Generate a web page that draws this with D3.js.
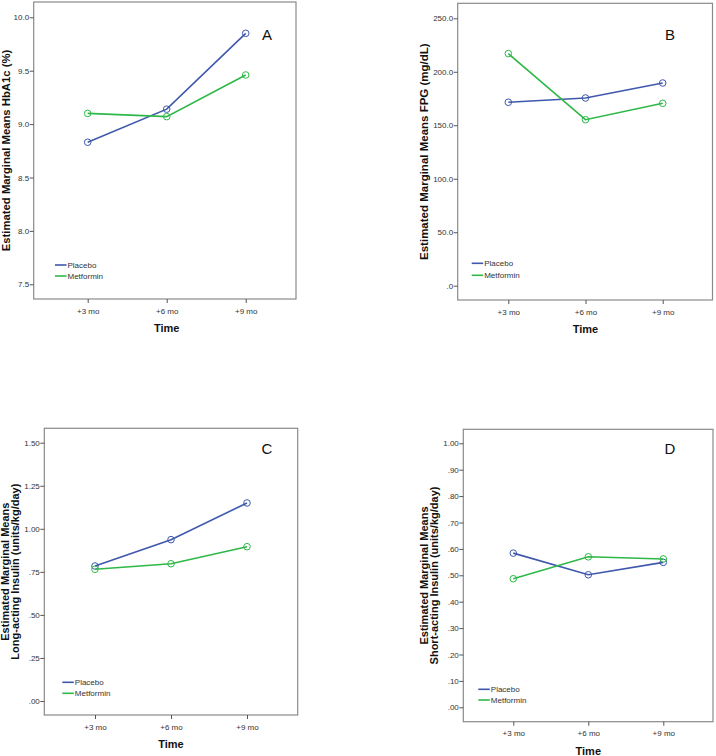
<!DOCTYPE html>
<html>
<head>
<meta charset="utf-8">
<script src="https://cdn.jsdelivr.net/npm/d3@7"></script>
<style>
  html, body { margin: 0; padding: 0; background: #fff; }
  svg { display: block; }
  text { font-family: "Liberation Sans", Arial, sans-serif; }
</style>
</head>
<body>
<svg id="chart" width="716" height="756"></svg>
<script>
// ---------- data ----------
const timepoints = ["+3 mo", "+6 mo", "+9 mo"];
const seriesNames = ["Placebo", "Metformin"];

const hba1cPlacebo   = [8.83, 9.14, 9.85];
const hba1cMetformin = [9.10, 9.07, 9.46];

const fpgPlacebo   = [171.5, 175.5, 189.5];
const fpgMetformin = [217.0, 155.2, 170.5];

const longPlacebo   = [0.784, 0.937, 1.150];
const longMetformin = [0.765, 0.797, 0.896];

const shortPlacebo   = [0.584, 0.502, 0.549];
const shortMetformin = [0.487, 0.570, 0.562];

const ticksA = [7.5, 8.0, 8.5, 9.0, 9.5, 10.0];
const tickLabelsA = ["7.5", "8.0", "8.5", "9.0", "9.5", "10.0"];
const ticksB = [0, 50, 100, 150, 200, 250];
const tickLabelsB = [".0", "50.0", "100.0", "150.0", "200.0", "250.0"];
const ticksC = [0, 0.25, 0.5, 0.75, 1.0, 1.25, 1.5];
const tickLabelsC = [".00", ".25", ".50", ".75", "1.00", "1.25", "1.50"];
const ticksD = [0, 0.1, 0.2, 0.3, 0.4, 0.5, 0.6, 0.7, 0.8, 0.9, 1.0];
const tickLabelsD = [".00", ".10", ".20", ".30", ".40", ".50", ".60", ".70", ".80", ".90", "1.00"];

const yTitleA = ["Estimated Marginal Means HbA1c (%)"];
const yTitleB = ["Estimated Marginal Means FPG (mg/dL)"];
const yTitleC = ["Estimated Marginal Means", "Long-acting Insulin (units/kg/day)"];
const yTitleD = ["Estimated Marginal Means", "Short-acting Insulin (units/kg/day)"];
const xTitle = "Time";
const panelLetters = ["A", "B", "C", "D"];

// ---------- styles / layout ----------
const colors = ["#3E58AC", "#2EB848"];
const frameColor = "#8a8a8a";
const narrow = "'Liberation Sans Narrow', 'Liberation Sans', Arial, sans-serif";

const panels = [
  { letter: panelLetters[0], series: [hba1cPlacebo, hba1cMetformin], ticks: ticksA, labels: tickLabelsA, title: yTitleA,
    frame: [33.7, 296, 2, 299], yDomain: [7.5, 10], yRange: [284.3, 17.3], xRange: [87.7, 245.7],
    titleX: 5.5, titleSize: 11.3, letterPos: [267, 34], legend: [55, 265, 11] },
  { letter: panelLetters[1], series: [fpgPlacebo, fpgMetformin], ticks: ticksB, labels: tickLabelsB, title: yTitleB,
    frame: [457.7, 712.5, 3.3, 300], yDomain: [0, 250], yRange: [285.7, 18.3], xRange: [508.3, 662.7],
    titleX: 424, titleSize: 11.5, letterPos: [670, 34], legend: [471.7, 263.3, 12] },
  { letter: panelLetters[2], series: [longPlacebo, longMetformin], ticks: ticksC, labels: tickLabelsC, title: yTitleC,
    frame: [44.3, 297.7, 428.3, 715], yDomain: [0, 1.5], yRange: [701, 442.7], xRange: [95, 247],
    titleX: 10, titleSize: 11, letterPos: [267, 448.5], legend: [62.3, 682.3, 11] },
  { letter: panelLetters[3], series: [shortPlacebo, shortMetformin], ticks: ticksD, labels: tickLabelsD, title: yTitleD,
    frame: [463.3, 713, 429.3, 721.7], yDomain: [0, 1], yRange: [707.3, 443.3], xRange: [513.3, 663.3],
    titleX: 429, titleSize: 11, letterPos: [670, 448], legend: [478.3, 689.3, 10.7] }
];

const svg = d3.select("#chart");

panels.forEach(p => {
  const [x0, x1, y0, y1] = p.frame;
  const g = svg.append("g");
  const x = d3.scalePoint().domain(timepoints).range(p.xRange);
  const y = d3.scaleLinear().domain(p.yDomain).range(p.yRange);

  // frame
  g.append("rect").attr("x", x0).attr("y", y0).attr("width", x1 - x0).attr("height", y1 - y0)
    .attr("fill", "none").attr("stroke", frameColor).attr("stroke-width", 1.2);

  // y axis
  const yAxis = d3.axisLeft(y).tickValues(p.ticks).tickSize(4).tickPadding(0.5)
    .tickFormat((d, i) => p.labels[i]);
  const ya = g.append("g").attr("transform", `translate(${x0},0)`).call(yAxis);
  ya.select(".domain").remove();
  ya.selectAll(".tick line").attr("stroke", "#555");
  ya.selectAll(".tick text").attr("fill", "#333").style("font-size", "8px").style("font-family", narrow);

  // x axis
  const xAxis = d3.axisBottom(x).tickSize(4).tickPadding(5);
  const xa = g.append("g").attr("transform", `translate(0,${y1})`).call(xAxis);
  xa.select(".domain").remove();
  xa.selectAll(".tick line").attr("stroke", "#555");
  xa.selectAll(".tick text").attr("fill", "#333").style("font-size", "8px").style("font-family", narrow);

  // x title
  g.append("text").attr("x", x(timepoints[1])).attr("y", y1 + 33)
    .attr("text-anchor", "middle").style("font-size", "11px").style("font-weight", "bold")
    .attr("fill", "#111").text(xTitle);

  // y title
  const cy = (y0 + y1) / 2;
  const n = p.title.length;
  p.title.forEach((t, i) => {
    g.append("text")
      .attr("transform", `translate(${p.titleX + (i - (n - 1) / 2) * 10},${cy}) rotate(-90)`)
      .attr("text-anchor", "middle").attr("dominant-baseline", "central")
      .style("font-size", p.titleSize + "px").style("font-weight", "bold").attr("fill", "#111").text(t);
  });

  // lines and markers
  const line = d3.line().x((d, i) => x(timepoints[i])).y(d => y(d));
  p.series.forEach((s, k) => {
    g.append("path").datum(s).attr("d", line).attr("fill", "none")
      .attr("stroke", colors[k]).attr("stroke-width", 1.6);
    g.selectAll(null).data(s).enter().append("circle")
      .attr("cx", (d, i) => x(timepoints[i])).attr("cy", d => y(d)).attr("r", 3.3)
      .attr("fill", "none").attr("stroke", colors[k]).attr("stroke-width", 1);
  });

  // panel letter
  g.append("text").attr("x", p.letterPos[0]).attr("y", p.letterPos[1])
    .attr("text-anchor", "middle").attr("dominant-baseline", "central")
    .style("font-size", "15px").attr("fill", "#111").text(p.letter);

  // legend
  const [lx, ly, dy] = p.legend;
  seriesNames.forEach((name, k) => {
    g.append("line").attr("x1", lx).attr("x2", lx + 11.5).attr("y1", ly + k * dy).attr("y2", ly + k * dy)
      .attr("stroke", colors[k]).attr("stroke-width", 1.6);
    g.append("text").attr("x", lx + 12.5).attr("y", ly + k * dy).attr("dominant-baseline", "central")
      .style("font-size", "8px").attr("fill", "#333").style("font-family", narrow)
      .text(name);
  });
});
</script>
</body>
</html>
